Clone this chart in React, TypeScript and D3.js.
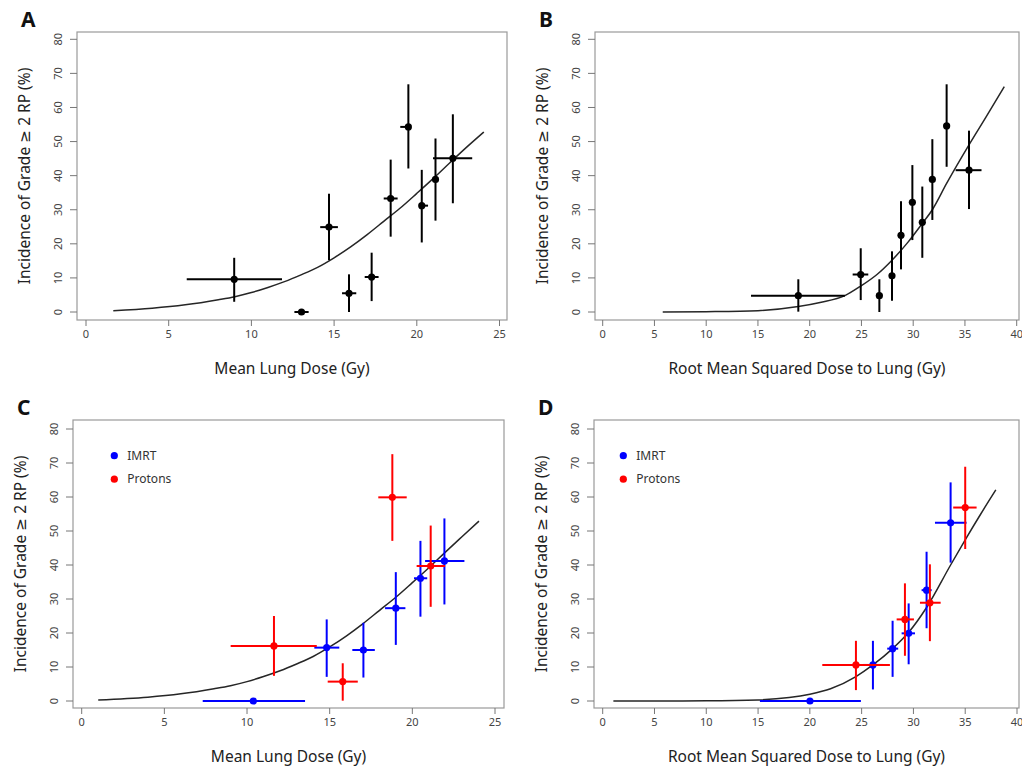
import * as d3 from "d3";

type Obs = { x: number; y: number; xlo: number; xhi: number; ylo: number; yhi: number };

// Panel A: mean lung dose, all patients
const mldAll: Obs[] = [
  { x: 8.96, y: 9.6, xlo: 6.09, xhi: 11.85, ylo: 3.0, yhi: 15.9 },
  { x: 13.03, y: 0, xlo: 12.6, xhi: 13.46, ylo: 0, yhi: 0 },
  { x: 14.69, y: 24.9, xlo: 14.16, xhi: 15.23, ylo: 15.2, yhi: 34.7 },
  { x: 15.9, y: 5.5, xlo: 15.48, xhi: 16.34, ylo: 0, yhi: 11.05 },
  { x: 17.27, y: 10.26, xlo: 16.85, xhi: 17.69, ylo: 3.2, yhi: 17.4 },
  { x: 18.42, y: 33.3, xlo: 18.0, xhi: 18.84, ylo: 22.1, yhi: 44.7 },
  { x: 19.49, y: 54.3, xlo: 19.0, xhi: 19.65, ylo: 42.1, yhi: 66.8 },
  { x: 20.3, y: 31.2, xlo: 20.18, xhi: 20.68, ylo: 20.4, yhi: 41.7 },
  { x: 21.13, y: 38.9, xlo: 21.0, xhi: 21.3, ylo: 26.8, yhi: 50.9 },
  { x: 22.18, y: 45.1, xlo: 20.98, xhi: 23.35, ylo: 31.9, yhi: 58.0 },
];

// Panel B: root mean squared dose, all patients
const rmsAll: Obs[] = [
  { x: 18.9, y: 4.8, xlo: 14.33, xhi: 23.4, ylo: 0.1, yhi: 9.6 },
  { x: 24.93, y: 11.0, xlo: 24.15, xhi: 25.66, ylo: 3.5, yhi: 18.7 },
  { x: 26.73, y: 4.8, xlo: 26.4, xhi: 27.0, ylo: 0, yhi: 9.6 },
  { x: 27.95, y: 10.6, xlo: 27.7, xhi: 28.2, ylo: 3.3, yhi: 17.8 },
  { x: 28.82, y: 22.5, xlo: 28.6, xhi: 29.0, ylo: 12.5, yhi: 32.5 },
  { x: 29.92, y: 32.2, xlo: 29.7, xhi: 30.1, ylo: 21.1, yhi: 43.1 },
  { x: 30.88, y: 26.3, xlo: 30.7, xhi: 31.05, ylo: 15.9, yhi: 36.8 },
  { x: 31.85, y: 38.9, xlo: 31.65, xhi: 32.05, ylo: 27.0, yhi: 50.7 },
  { x: 33.23, y: 54.6, xlo: 33.0, xhi: 33.4, ylo: 42.6, yhi: 66.8 },
  { x: 35.39, y: 41.6, xlo: 34.1, xhi: 36.6, ylo: 30.2, yhi: 53.2 },
];

// Panel C: mean lung dose by modality
const mldImrt: Obs[] = [
  { x: 10.38, y: 0, xlo: 7.32, xhi: 13.51, ylo: 0, yhi: 0 },
  { x: 14.82, y: 15.7, xlo: 14.07, xhi: 15.58, ylo: 7.1, yhi: 24.0 },
  { x: 17.04, y: 15.0, xlo: 16.37, xhi: 17.73, ylo: 6.9, yhi: 23.0 },
  { x: 19.0, y: 27.3, xlo: 18.35, xhi: 19.58, ylo: 16.5, yhi: 37.9 },
  { x: 20.49, y: 36.1, xlo: 20.1, xhi: 20.9, ylo: 24.8, yhi: 47.1 },
  { x: 21.94, y: 41.2, xlo: 20.77, xhi: 23.15, ylo: 28.4, yhi: 53.7 },
];
const mldProton: Obs[] = [
  { x: 11.63, y: 16.2, xlo: 9.01, xhi: 14.22, ylo: 7.4, yhi: 25.0 },
  { x: 15.79, y: 5.7, xlo: 14.88, xhi: 16.7, ylo: 0.1, yhi: 11.1 },
  { x: 18.79, y: 59.9, xlo: 17.94, xhi: 19.66, ylo: 47.1, yhi: 72.6 },
  { x: 21.11, y: 39.7, xlo: 20.26, xhi: 21.98, ylo: 27.7, yhi: 51.6 },
];

// Panel D: root mean squared dose by modality
const rmsImrt: Obs[] = [
  { x: 20.01, y: 0, xlo: 15.18, xhi: 24.93, ylo: 0, yhi: 0 },
  { x: 26.09, y: 10.6, xlo: 25.15, xhi: 27.09, ylo: 3.4, yhi: 17.7 },
  { x: 27.99, y: 15.4, xlo: 27.47, xhi: 28.53, ylo: 7.1, yhi: 23.6 },
  { x: 29.54, y: 19.9, xlo: 28.86, xhi: 30.15, ylo: 10.8, yhi: 28.7 },
  { x: 31.27, y: 32.6, xlo: 30.79, xhi: 31.76, ylo: 21.4, yhi: 43.9 },
  { x: 33.59, y: 52.4, xlo: 32.08, xhi: 35.13, ylo: 40.7, yhi: 64.3 },
];
const rmsProton: Obs[] = [
  { x: 24.45, y: 10.6, xlo: 21.2, xhi: 27.73, ylo: 3.2, yhi: 17.7 },
  { x: 29.18, y: 24.0, xlo: 28.38, xhi: 30.05, ylo: 13.3, yhi: 34.6 },
  { x: 31.59, y: 28.9, xlo: 30.63, xhi: 32.63, ylo: 17.6, yhi: 40.2 },
  { x: 35.0, y: 56.9, xlo: 33.84, xhi: 36.1, ylo: 44.7, yhi: 68.9 },
];

// fitted NTCP curves
const mldFitA: [number, number][] = [
  [1.65, 0.4], [4, 1.1], [6, 2.1], [8, 3.6], [9, 4.5], [10, 5.7], [11, 7.2], [12, 8.9],
  [13, 10.9], [14, 13.1], [15, 15.9], [16, 19.1], [17, 22.7], [18, 26.6], [19, 30.5],
  [20, 34.8], [21, 39.2], [22, 43.8], [23, 48.3], [24.05, 52.8],
];
const mldFitC: [number, number][] = [
  [1.0, 0.3], [4, 1.1], [6, 2.1], [8, 3.6], [9, 4.5], [10, 5.7], [11, 7.2], [12, 8.9],
  [13, 10.9], [14, 13.1], [15, 15.9], [16, 19.1], [17, 22.7], [18, 26.6], [19, 30.5],
  [20, 34.8], [21, 39.2], [22, 43.8], [23, 48.3], [24.03, 52.9],
];
const rmsFitB: [number, number][] = [
  [5.8, 0], [10, 0.1], [15, 0.4], [18.9, 1.6], [21, 2.8], [23.4, 4.8], [24.93, 7.6],
  [26.5, 11], [27.95, 15.2], [29.5, 20.5], [30.88, 26], [31.85, 30], [33.23, 37.7],
  [35.39, 49], [37, 57], [38.8, 66.1],
];
const rmsFitD: [number, number][] = [
  [1.03, 0], [5, 0.01], [10, 0.05], [15, 0.3], [18, 1.0], [20, 2.0], [22, 3.6],
  [24.45, 7.2], [26.09, 10.6], [27.99, 15.4], [29.54, 20.2], [31.27, 27.5],
  [33.59, 40], [35, 47.4], [36.5, 55], [37.96, 62.1],
];

const yTicks = [0, 10, 20, 30, 40, 50, 60, 70, 80];
const mldTicks = [0, 5, 10, 15, 20, 25];
const rmsTicks = [0, 5, 10, 15, 20, 25, 30, 35, 40];
const legendLabels = ["IMRT", "Protons"];
const legendColors = ["#0000ff", "#ff0000"];

const FONT = "'Noto Sans', 'DejaVu Sans', sans-serif";
const yTitle = "Incidence of Grade \u2265 2 RP (%)";

type Series = { data: Obs[]; color: string };

type PanelProps = {
  letter: string;
  box: [number, number, number, number];
  xMax: number;
  xRange: [number, number];
  yRange: [number, number];
  xTicks: number[];
  xTitle: string;
  series: Series[];
  fit: [number, number][];
  legendAt?: [number, number];
};

function Panel({ letter, box, xMax, xRange, yRange, xTicks, xTitle, series, fit, legendAt }: PanelProps) {
  const [left, top, right, bottom] = box;
  const x = d3.scaleLinear().domain([0, xMax]).range(xRange);
  const y = d3.scaleLinear().domain([0, 80]).range(yRange);
  const line = d3
    .line<[number, number]>()
    .x((d) => x(d[0]))
    .y((d) => y(d[1]))
    .curve(d3.curveMonotoneX);
  const midY = (top + bottom) / 2;
  const midX = (left + right) / 2;

  return (
    <g>
      <text x={left - 56} y={top - 5} fontFamily={FONT} fontWeight="bold" fontSize={21} fill="#111">
        {letter}
      </text>
      <rect x={left} y={top} width={right - left} height={bottom - top} fill="none" stroke="#9a9a9a" strokeWidth={1.2} />
      {yTicks.map((t) => (
        <g key={"y" + t}>
          <line x1={left - 7} x2={left} y1={y(t)} y2={y(t)} stroke="#777" strokeWidth={1} />
          <text
            transform={`translate(${left - 15},${y(t)}) rotate(-90)`}
            textAnchor="middle"
            fontFamily={FONT}
            fontSize={11}
            fill="#444"
          >
            {t}
          </text>
        </g>
      ))}
      {xTicks.map((t) => (
        <g key={"x" + t}>
          <line x1={x(t)} x2={x(t)} y1={bottom} y2={bottom + 6} stroke="#777" strokeWidth={1} />
          <text x={x(t)} y={bottom + 18} textAnchor="middle" fontFamily={FONT} fontSize={11} fill="#444">
            {t}
          </text>
        </g>
      ))}
      <text
        transform={`translate(${left - 47},${midY}) rotate(-90)`}
        textAnchor="middle"
        fontFamily={FONT}
        fontSize={15.5}
        fill="#222"
      >
        {yTitle}
      </text>
      <text x={midX} y={bottom + 54} textAnchor="middle" fontFamily={FONT} fontSize={15.5} fill="#222">
        {xTitle}
      </text>
      <path d={line(fit) || ""} fill="none" stroke="#262626" strokeWidth={1.5} />
      {series.map((s, si) => (
        <g key={"s" + si}>
          {s.data.map((d, i) => (
            <g key={i}>
              <line x1={x(d.xlo)} x2={x(d.xhi)} y1={y(d.y)} y2={y(d.y)} stroke={s.color} strokeWidth={2} />
              <line x1={x(d.x)} x2={x(d.x)} y1={y(d.ylo)} y2={y(d.yhi)} stroke={s.color} strokeWidth={2} />
              <circle cx={x(d.x)} cy={y(d.y)} r={3.6} fill={s.color} />
            </g>
          ))}
        </g>
      ))}
      {legendAt &&
        legendLabels.map((lab, i) => (
          <g key={lab} transform={`translate(${legendAt[0]},${legendAt[1] + i * 23.5})`}>
            <circle cx={0} cy={0} r={3.6} fill={legendColors[i]} />
            <text x={13} y={4} fontFamily={FONT} fontSize={12} fill="#333">
              {lab}
            </text>
          </g>
        ))}
    </g>
  );
}

export default function App() {
  return (
    <svg
      width={1022}
      height={769}
      style={{ position: "absolute", left: 0, top: 0, background: "#fff" }}
    >
      <Panel
        letter="A"
        box={[77, 32, 507, 320]}
        xMax={25}
        xRange={[86, 499.5]}
        yRange={[312, 39.3]}
        xTicks={mldTicks}
        xTitle="Mean Lung Dose (Gy)"
        series={[{ data: mldAll, color: "#000" }]}
        fit={mldFitA}
      />
      <Panel
        letter="B"
        box={[595, 32, 1019, 320]}
        xMax={40}
        xRange={[602.7, 1016.7]}
        yRange={[312, 39.3]}
        xTicks={rmsTicks}
        xTitle="Root Mean Squared Dose to Lung (Gy)"
        series={[{ data: rmsAll, color: "#000" }]}
        fit={rmsFitB}
      />
      <Panel
        letter="C"
        box={[73, 420, 504, 708]}
        xMax={25}
        xRange={[81.7, 495]}
        yRange={[701, 429]}
        xTicks={mldTicks}
        xTitle="Mean Lung Dose (Gy)"
        series={[
          { data: mldImrt, color: legendColors[0] },
          { data: mldProton, color: legendColors[1] },
        ]}
        fit={mldFitC}
        legendAt={[114.3, 455.7]}
      />
      <Panel
        letter="D"
        box={[594, 420, 1019, 708]}
        xMax={40}
        xRange={[602.7, 1017]}
        yRange={[701, 429]}
        xTicks={rmsTicks}
        xTitle="Root Mean Squared Dose to Lung (Gy)"
        series={[
          { data: rmsImrt, color: legendColors[0] },
          { data: rmsProton, color: legendColors[1] },
        ]}
        fit={rmsFitD}
        legendAt={[623.3, 455.7]}
      />
    </svg>
  );
}
